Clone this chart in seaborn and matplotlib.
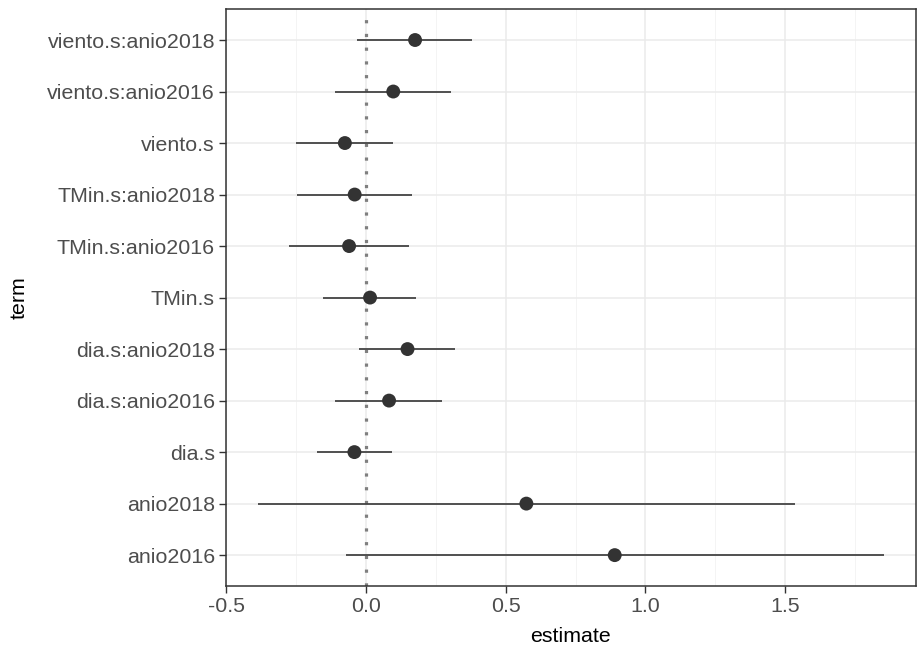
import matplotlib
matplotlib.use("Agg")
import matplotlib.pyplot as plt
import seaborn as sns
import pandas as pd
import numpy as np

# Data (bottom to top)
terms = ["anio2016", "anio2018", "dia.s", "dia.s:anio2016", "dia.s:anio2018",
         "TMin.s", "TMin.s:anio2016", "TMin.s:anio2018", "viento.s",
         "viento.s:anio2016", "viento.s:anio2018"]
estimate = [0.890, 0.574, -0.041, 0.083, 0.149, 0.015, -0.060, -0.040, -0.075, 0.098, 0.176]
conf_low = [-0.072, -0.386, -0.174, -0.112, -0.024, -0.152, -0.276, -0.248, -0.249, -0.111, -0.030]
conf_high = [1.854, 1.535, 0.093, 0.274, 0.319, 0.181, 0.155, 0.164, 0.098, 0.305, 0.379]

xticks = [-0.5, 0.0, 0.5, 1.0, 1.5]
xtick_labels = ["-0.5", "0.0", "0.5", "1.0", "1.5"]

df = pd.DataFrame({"term": terms, "estimate": estimate,
                   "conf.low": conf_low, "conf.high": conf_high})

sns.set_theme(style="white")
plt.rcParams["font.family"] = ["Liberation Sans", "DejaVu Sans"]

fig = plt.figure(figsize=(9.17, 6.51), dpi=100)
ax = fig.add_axes([0.2465, 0.0998, 0.752, 0.8862])

# grid
for v in np.arange(-0.25, 2.0, 0.5):
    ax.axvline(v, color="#F2F2F2", lw=0.6, zorder=0)
for v in xticks:
    ax.axvline(v, color="#EBEBEB", lw=1.1, zorder=0)

ypos = np.arange(len(terms))
for y in ypos:
    ax.axhline(y, color="#EBEBEB", lw=1.1, zorder=0)

# zero line
ax.axvline(0, color="#7F7F7F", lw=2.3, linestyle=(0, (1.0, 3.3)), zorder=1)

# error bars
ax.hlines(ypos, df["conf.low"], df["conf.high"], color="#444444", lw=1.3, zorder=2)

sns.scatterplot(x=df["estimate"].values, y=ypos, ax=ax, s=100, color="#333333",
                edgecolor="none", zorder=3, legend=False)

ax.set_yticks(ypos)
ax.set_yticklabels(terms)
ax.set_ylim(-0.6, len(terms) - 1 + 0.6)
ax.set_xlim(-0.5, 1.966)
ax.set_xticks(xticks)
ax.set_xticklabels(xtick_labels)

ax.tick_params(axis="both", which="major", length=5, width=1, color="#333333",
               labelsize=15.4, labelcolor="#4D4D4D", pad=3, left=True, bottom=True)
ax.set_xlabel("estimate", fontsize=15.4, color="black", labelpad=8)
ax.set_ylabel("term", fontsize=15.4, color="black", labelpad=13)

for sp in ax.spines.values():
    sp.set_color("#333333")
    sp.set_linewidth(1.1)
    sp.set_visible(True)

fig.savefig("out.png", dpi=100)
